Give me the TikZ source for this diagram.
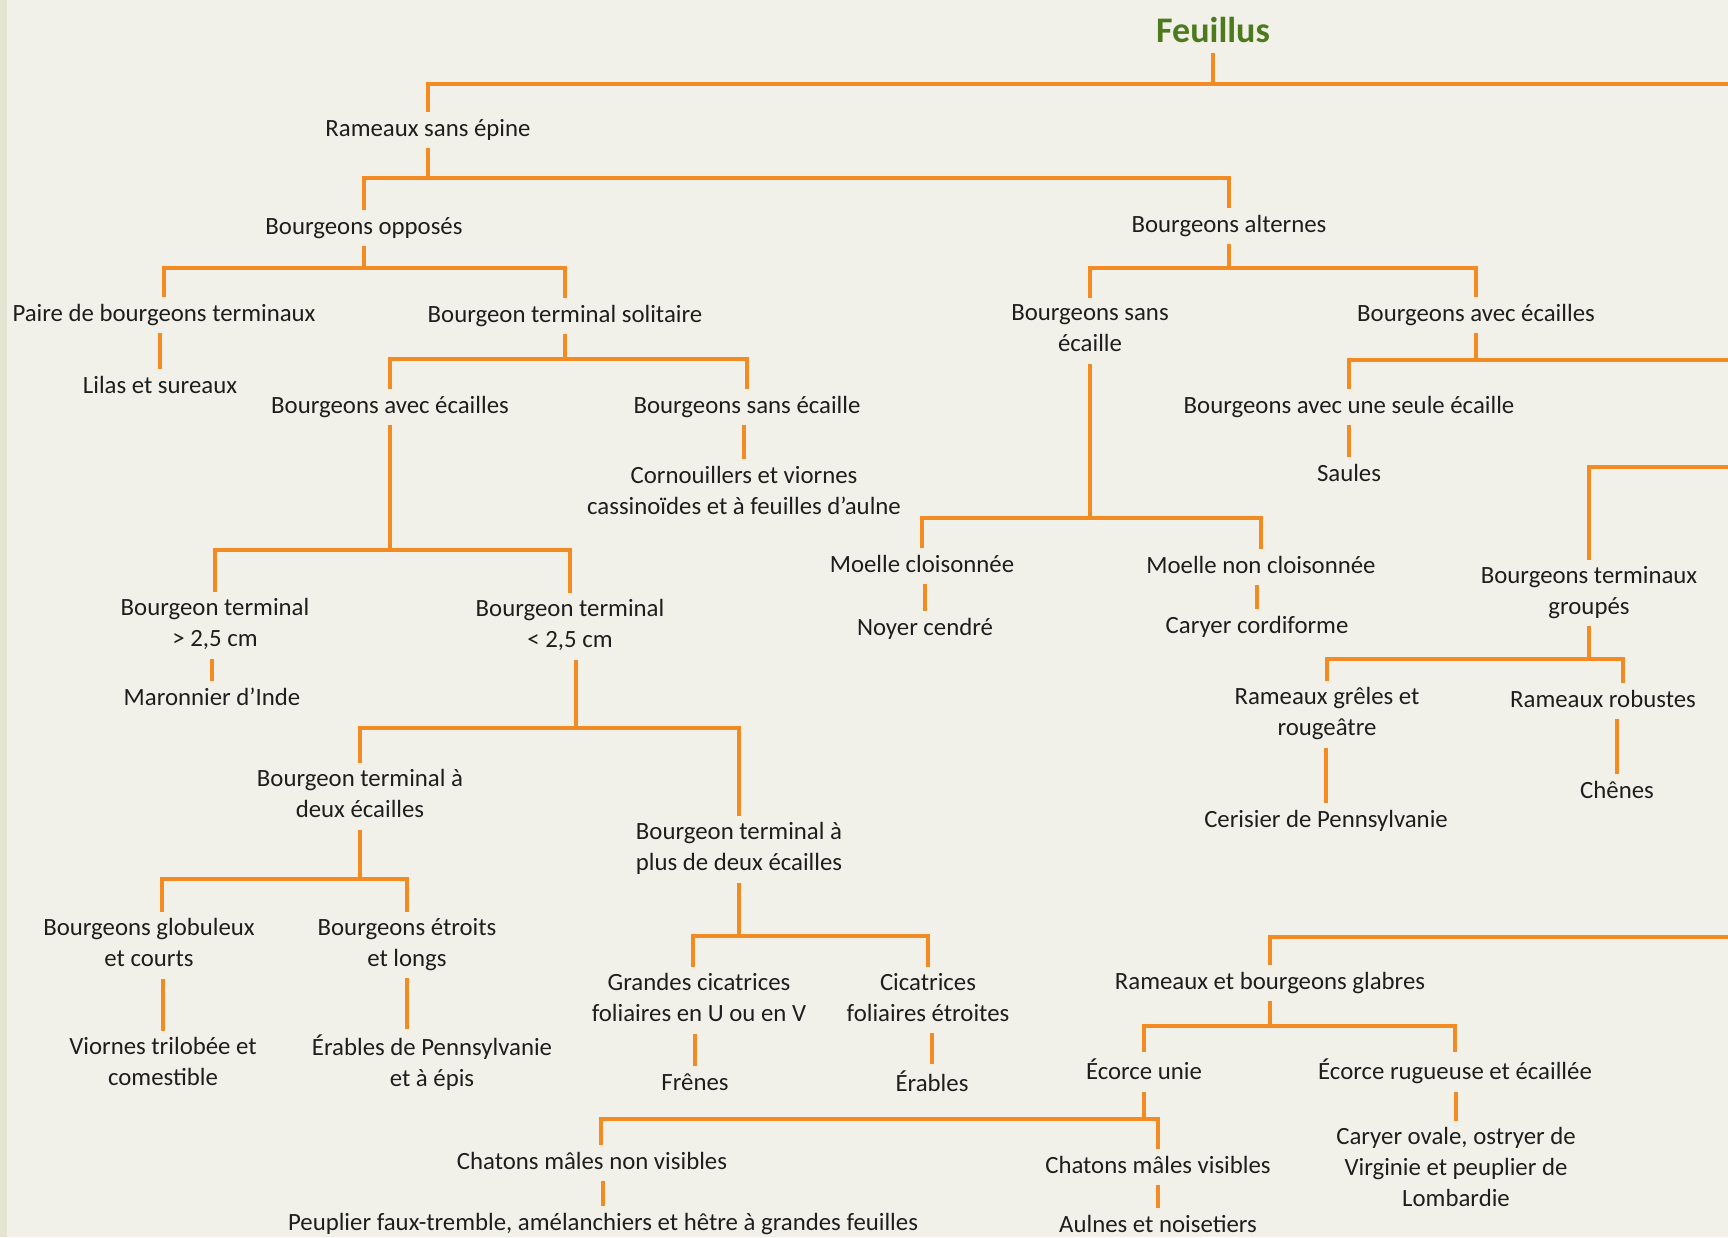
\documentclass[tikz,border=0pt]{standalone}
\usepackage{fontspec}
\setmainfont{Carlito}
\usepackage{tikz}
\definecolor{fond}{RGB}{242,241,233}
\definecolor{bande}{RGB}{228,228,211}
\definecolor{branche}{RGB}{243,139,34}
\definecolor{vert}{RGB}{78,122,30}
\definecolor{texte}{RGB}{30,30,30}
\newcommand\tstrut{\rule[-3pt]{0pt}{12pt}}

\begin{document}
\begin{tikzpicture}[x=0.5pt,y=-0.5pt,
	cle/.style={text=texte, inner sep=3pt, align=center, font=\fontsize{12.4}{15.5}\selectfont,
		execute at begin node=\tstrut, execute at end node=\tstrut},
	titre/.style={text=vert, font=\fontsize{18}{22}\selectfont\bfseries, inner sep=5pt, anchor=base},
	link/.style={draw=branche, line width=1.6pt}]

	\useasboundingbox (0,0) rectangle (1728,1237);
	\fill[fond] (0,0) rectangle (1728,1237);
	\fill[bande] (0,0) rectangle (7,1237);

	\node[titre] (feuillus) at (1213,42) {Feuillus};
	\node[cle] (ramsans) at (428,130) {Rameaux sans épine};
	\node[cle] (bopp) at (364,228) {Bourgeons opposés};
	\node[cle] (balt) at (1229,226) {Bourgeons alternes};
	\node[cle] (paire) at (164,315) {Paire de bourgeons terminaux};
	\node[cle] (lilas) at (160,387) {Lilas et sureaux};
	\node[cle] (bsol) at (565,316) {Bourgeon terminal solitaire};
	\node[cle] (bavec) at (390,407) {Bourgeons avec écailles};
	\node[cle] (bsans) at (747,407) {Bourgeons sans écaille};
	\node[cle] (corn) at (744,493) {Cornouillers et viornes\\cassinoïdes et à feuilles d’aulne};
	\node[cle] (bgrand) at (215,625) {Bourgeon terminal\\> 2,5 cm};
	\node[cle] (maron) at (212,699) {Maronnier d’Inde};
	\node[cle] (bpetit) at (570,626) {Bourgeon terminal\\< 2,5 cm};
	\node[cle] (bdeux) at (360,796) {Bourgeon terminal à\\deux écailles};
	\node[cle] (bplus) at (739,849) {Bourgeon terminal à\\plus de deux écailles};
	\node[cle] (bglob) at (149,945) {Bourgeons globuleux\\et courts};
	\node[cle] (betr) at (407,945) {Bourgeons étroits\\et longs};
	\node[cle] (viornes) at (163,1064) {Viornes trilobée et\\comestible};
	\node[cle] (erpenn) at (432,1064) {Érables de Pennsylvanie\\et à épis};
	\node[cle] (grandes) at (699,1000) {Grandes cicatrices\\foliaires en U ou en V};
	\node[cle] (cicat) at (928,1000) {Cicatrices\\foliaires étroites};
	\node[cle] (frenes) at (695,1084) {Frênes};
	\node[cle] (erables) at (932,1084) {Érables};

	\node[cle] (bsansd) at (1090,331) {Bourgeons sans\\écaille};
	\node[cle] (bavecd) at (1476,315) {Bourgeons avec écailles};
	\node[cle] (bseule) at (1349,407) {Bourgeons avec une seule écaille};
	\node[cle] (saules) at (1349,475) {Saules};
	\node[cle] (mcl) at (922,566) {Moelle cloisonnée};
	\node[cle] (noyer) at (925,629) {Noyer cendré};
	\node[cle] (mncl) at (1261,567) {Moelle non cloisonnée};
	\node[cle] (caryer) at (1257,627) {Caryer cordiforme};
	\node[cle] (bgroup) at (1589,593) {Bourgeons terminaux\\groupés};
	\node[cle] (rgrel) at (1327,714) {Rameaux grêles et\\rougeâtre};
	\node[cle] (rrob) at (1603,701) {Rameaux robustes};
	\node[cle] (ceris) at (1326,821) {Cerisier de Pennsylvanie};
	\node[cle] (chenes) at (1617,792) {Chênes};
	\node[cle] (glabres) at (1270,983) {Rameaux et bourgeons glabres};
	\node[cle] (ecunie) at (1144,1072) {Écorce unie};
	\node[cle] (ecrug) at (1455,1072) {Écorce rugueuse et écaillée};
	\node[cle] (caryov) at (1456,1170) {Caryer ovale, ostryer de\\Virginie et peuplier de\\Lombardie};
	\node[cle] (chnv) at (592,1163) {Chatons mâles non visibles};
	\node[cle] (chv) at (1158,1167) {Chatons mâles visibles};
	\node[cle] (peup) at (603,1224) {Peuplier faux-tremble, amélanchiers et hêtre à grandes feuilles};
	\node[cle] (aulnes) at (1158,1226) {Aulnes et noisetiers};

	\coordinate (bordA) at (1728,84);
	\coordinate (bordB) at (1728,360);
	\coordinate (bordC) at (1728,467);
	\coordinate (bordD) at (1728,937);

	\draw[link] (feuillus.south) -- (feuillus.south |- 0,84) -| (ramsans.north);
	\draw[link] (feuillus.south |- 0,84) -- (bordA);
	\foreach \c in {bopp,balt} \draw[link] (ramsans.south) -- (ramsans.south |- 0,178) -| (\c.north);
	\foreach \c in {paire,bsol} \draw[link] (bopp.south) -- (bopp.south |- 0,268) -| (\c.north);
	\foreach \c in {bsansd,bavecd} \draw[link] (balt.south) -- (balt.south |- 0,268) -| (\c.north);
	\draw[link] (lilas.north |- paire.south) -- (lilas.north);
	\foreach \c in {bavec,bsans} \draw[link] (bsol.south) -- (bsol.south |- 0,359) -| (\c.north);
	\draw[link] (corn.north |- bsans.south) -- (corn.north);
	\foreach \c in {bgrand,bpetit} \draw[link] (bavec.south) -- (bavec.south |- 0,550) -| (\c.north);
	\draw[link] (maron.north |- bgrand.south) -- (maron.north);
	\foreach \c in {bdeux,bplus} \draw[link] ([xshift=3pt]bpetit.south) -- ([xshift=3pt]bpetit.south |- 0,728) -| (\c.north);
	\foreach \c/\dx in {bglob/6.5pt,betr/0pt} \draw[link] (bdeux.south) -- (bdeux.south |- 0,879) -| ([xshift=\dx]\c.north);
	\draw[link] (viornes.north |- bglob.south) -- (viornes.north);
	\draw[link] (betr.south) -- (betr.south |- erpenn.north);
	\foreach \c/\dx in {grandes/-3pt,cicat/0pt} \draw[link] (bplus.south) -- (bplus.south |- 0,936) -| ([xshift=\dx]\c.north);
	\draw[link] (frenes.north |- grandes.south) -- (frenes.north);
	\draw[link] (erables.north |- cicat.south) -- (erables.north);

	\foreach \c in {mcl,mncl} \draw[link] (bsansd.south) -- (bsansd.south |- 0,518) -| (\c.north);
	\draw[link] (noyer.north |- mcl.south) -- (noyer.north);
	\draw[link] (caryer.north |- mncl.south) -- (caryer.north);
	\foreach \c in {bseule,bordB} \draw[link] (bavecd.south) -- (bavecd.south |- 0,360) -| (\c.north);
	\draw[link] (saules.north |- bseule.south) -- (saules.north);
	\draw[link] (bordC) -| (bgroup.north);
	\foreach \c/\dx in {rgrel/0pt,rrob/10pt} \draw[link] (bgroup.south) -- (bgroup.south |- 0,659) -| ([xshift=\dx]\c.north);
	\draw[link] (ceris.north |- rgrel.south) -- (ceris.north);
	\draw[link] (chenes.north |- rrob.south) -- (chenes.north);
	\draw[link] (bordD) -| (glabres.north);
	\foreach \c in {ecunie,ecrug} \draw[link] (glabres.south) -- (glabres.south |- 0,1026) -| (\c.north);
	\draw[link] (caryov.north |- ecrug.south) -- (caryov.north);
	\foreach \c/\dx in {chnv/4.5pt,chv/0pt} \draw[link] (ecunie.south) -- (ecunie.south |- 0,1119) -| ([xshift=\dx]\c.north);
	\draw[link] (peup.north |- chnv.south) -- (peup.north);
	\draw[link] (aulnes.north |- chv.south) -- (aulnes.north);
\end{tikzpicture}
\end{document}
